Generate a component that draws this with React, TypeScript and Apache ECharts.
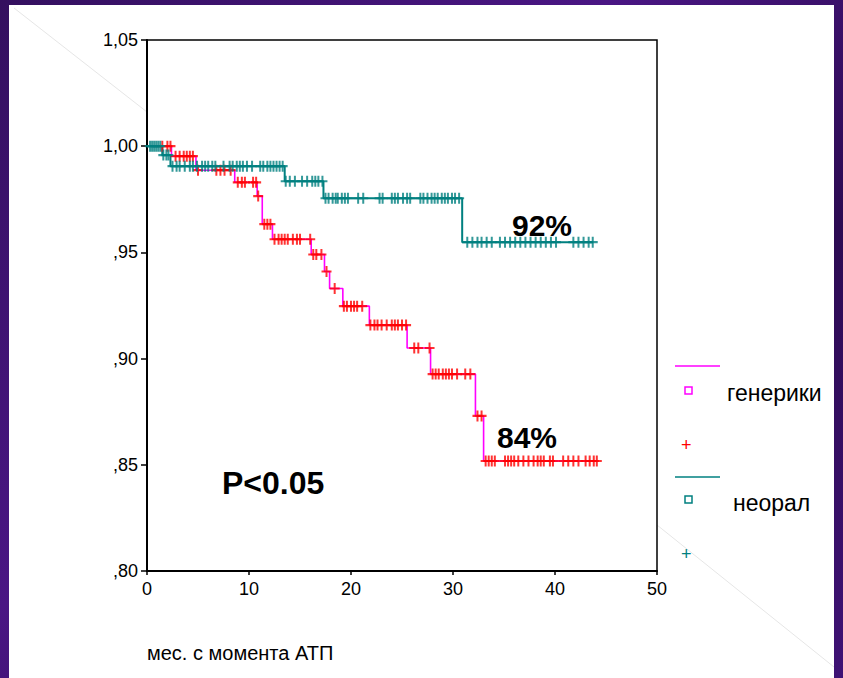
import React, { useEffect, useRef } from "react";
import * as echarts from "echarts";

// Kaplan–Meier step curves (time in months, survival)
const genericTimes = [0, 2.4, 4.8, 8.6, 10.8, 11.3, 12.3, 16.1, 17.4, 17.9, 19.2, 21.8, 25.5, 27.8, 32.2, 33.0];
const genericSurv = [1.0, 0.9953, 0.9887, 0.983, 0.9765, 0.9633, 0.9562, 0.949, 0.941, 0.933, 0.9247, 0.9158, 0.905, 0.8927, 0.873, 0.8518];
const genericEnd = 44.1;
const genericCensored = [
  1.5, 2.0, 2.3, 2.8, 3.2, 3.6, 3.9, 4.2, 4.5, 5.0, 6.8, 7.2, 7.6, 8.2, 8.9, 9.3, 9.6, 10.4, 10.7,
  10.9, 11.5, 11.8, 12.1, 12.5, 12.9, 13.2, 13.5, 13.8, 14.3, 14.7, 15.0, 16.0, 16.3, 16.6, 17.1,
  17.6, 18.4, 19.3, 19.6, 20.0, 20.3, 20.6, 21.1, 21.9, 22.3, 22.6, 23.0, 23.5, 24.0, 24.3, 24.6,
  25.0, 25.4, 26.2, 26.6, 27.7, 28.0, 28.3, 28.6, 29.0, 29.3, 29.6, 29.9, 30.4, 31.2, 31.7, 32.4,
  32.8, 33.2, 33.5, 33.8, 34.1, 35.1, 35.4, 35.7, 36.0, 36.4, 36.9, 37.4, 37.9, 38.3, 38.6, 38.9,
  39.5, 39.8, 40.8, 41.3, 41.8, 42.3, 43.0, 43.4, 43.8, 44.1,
];

const neoralTimes = [0, 1.5, 2.3, 13.5, 17.3, 30.9];
const neoralSurv = [1.0, 0.9958, 0.9906, 0.9835, 0.9755, 0.9548];
const neoralEnd = 43.7;
const neoralCensored = [
  0.3, 0.5, 0.7, 0.9, 1.1, 1.3, 1.6, 1.9, 2.1, 2.5, 2.9, 3.2, 3.7, 4.2, 4.5, 4.9, 5.4, 5.7, 6.0,
  6.4, 6.7, 7.5, 8.1, 8.4, 8.8, 9.1, 9.4, 9.8, 10.3, 11.1, 11.4, 11.8, 12.1, 12.4, 12.7, 13.0, 13.3,
  13.6, 14.0, 14.5, 15.2, 15.7, 16.2, 16.5, 16.8, 17.2, 17.5, 17.8, 18.2, 18.5, 18.7, 19.1, 19.4,
  19.7, 20.7, 21.2, 22.8, 23.1, 24.0, 24.3, 24.6, 25.1, 25.5, 25.8, 26.8, 27.1, 27.5, 27.9, 28.2,
  28.5, 28.9, 29.2, 29.5, 29.9, 30.2, 30.6, 31.4, 31.9, 32.4, 32.8, 33.3, 33.8, 34.6, 35.1, 35.6,
  36.1, 36.6, 37.1, 37.6, 38.1, 38.6, 39.1, 39.6, 40.1, 41.8, 42.3, 42.8, 43.3, 43.7,
];

const xTicks = [0, 10, 20, 30, 40, 50];
const yTicks = [0.8, 0.85, 0.9, 0.95, 1.0, 1.05];

const seriesNames = ["генерики", "неорал"];
const xTitle = "мес. с момента АТП";
const pText = "P<0.05";
const genericPct = "84%";
const neoralPct = "92%";

const MAGENTA = "#ff00ff";
const RED = "#ff0000";
const TEAL = "#008080";
const FONT = "'Liberation Sans', Arial, sans-serif";
const PLUS = "path://M4,0H6V4H10V6H6V10H4V6H0V4H4Z";

function stepAt(times: number[], surv: number[], t: number) {
  let v = surv[0];
  for (let i = 0; i < times.length; i++) if (times[i] <= t) v = surv[i];
  return v;
}

function stepLine(times: number[], surv: number[], end: number) {
  const d = times.map((t, i) => [t, surv[i]]);
  d.push([end, surv[surv.length - 1]]);
  return d;
}

export default function App() {
  const ref = useRef<HTMLDivElement>(null);
  useEffect(() => {
    if (!ref.current) return;
    const chart = echarts.init(ref.current, undefined, { renderer: "svg" });
    const option: any = {
      animation: false,
      backgroundColor: "transparent",
      grid: {
        left: 147,
        top: 40,
        width: 510,
        height: 531,
        show: true,
        borderColor: "#000",
        borderWidth: 1.5,
        backgroundColor: "transparent",
      },
      xAxis: {
        type: "value",
        min: xTicks[0],
        max: xTicks[xTicks.length - 1],
        interval: 10,
        axisLine: { show: true, lineStyle: { color: "#000", width: 2 } },
        axisTick: { show: true, length: 4, lineStyle: { color: "#000", width: 1.5 } },
        splitLine: { show: false },
        axisLabel: { color: "#000", fontSize: 18, fontFamily: FONT, margin: 9 },
      },
      yAxis: {
        type: "value",
        min: yTicks[0],
        max: yTicks[yTicks.length - 1],
        interval: 0.05,
        axisLine: { show: true, onZero: false, lineStyle: { color: "#000", width: 2 } },
        axisTick: { show: true, length: 6, lineStyle: { color: "#000", width: 1.5 } },
        splitLine: { show: false },
        axisLabel: {
          color: "#000",
          fontSize: 18,
          fontFamily: FONT,
          margin: 9,
          formatter: (v: number) => {
            const s = v.toFixed(2).replace(".", ",");
            return s.startsWith("0") ? s.slice(1) : s;
          },
        },
      },
      series: [
        {
          name: seriesNames[0],
          type: "line",
          step: "end",
          data: stepLine(genericTimes, genericSurv, genericEnd),
          showSymbol: false,
          symbol: "none",
          lineStyle: { color: MAGENTA, width: 1.6 },
          z: 2,
        },
        {
          name: seriesNames[1],
          type: "line",
          step: "end",
          data: stepLine(neoralTimes, neoralSurv, neoralEnd),
          showSymbol: false,
          symbol: "none",
          lineStyle: { color: TEAL, width: 2 },
          z: 2,
        },
        {
          name: seriesNames[0] + " censored",
          type: "scatter",
          data: genericCensored.map((t) => [t, stepAt(genericTimes, genericSurv, t)]),
          symbol: PLUS,
          symbolSize: [10, 11],
          itemStyle: { color: RED },
          z: 3,
        },
        {
          name: seriesNames[1] + " censored",
          type: "scatter",
          data: neoralCensored.map((t) => [t, stepAt(neoralTimes, neoralSurv, t)]),
          symbol: PLUS,
          symbolSize: [10, 11],
          itemStyle: { color: TEAL },
          z: 3,
        },
      ],
      graphic: [
        { type: "line", shape: { x1: 14, y1: 8, x2: 147, y2: 112 }, style: { stroke: "#e6e6e6", lineWidth: 1 }, z: -5 },
        { type: "line", shape: { x1: 657, y1: 525, x2: 834, y2: 667 }, style: { stroke: "#e6e6e6", lineWidth: 1 }, z: -5 },
        { type: "text", left: 512, top: 210, style: { text: neoralPct, font: `bold 30px ${FONT}`, fill: "#000" } },
        { type: "text", left: 497, top: 422, style: { text: genericPct, font: `bold 30px ${FONT}`, fill: "#000" } },
        { type: "text", left: 222, top: 467, style: { text: pText, font: `bold 32px ${FONT}`, fill: "#000" } },
        { type: "text", left: 147, top: 643, style: { text: xTitle, font: `20px ${FONT}`, fill: "#000" } },
        // legend
        { type: "line", shape: { x1: 675, y1: 366, x2: 720, y2: 366 }, style: { stroke: MAGENTA, lineWidth: 1.5 } },
        { type: "rect", shape: { x: 685, y: 387, width: 7, height: 7 }, style: { fill: "#fff", stroke: MAGENTA, lineWidth: 1.5 } },
        { type: "text", left: 727, top: 381, style: { text: seriesNames[0], font: `23px ${FONT}`, fill: "#000" } },
        { type: "text", left: 681, top: 436, style: { text: "+", font: `18px ${FONT}`, fill: RED } },
        { type: "line", shape: { x1: 675, y1: 477, x2: 720, y2: 477 }, style: { stroke: TEAL, lineWidth: 1.5 } },
        { type: "rect", shape: { x: 685, y: 496, width: 7, height: 7 }, style: { fill: "#fff", stroke: TEAL, lineWidth: 1.5 } },
        { type: "text", left: 733, top: 491, style: { text: seriesNames[1], font: `23px ${FONT}`, fill: "#000" } },
        { type: "text", left: 681, top: 545, style: { text: "+", font: `18px ${FONT}`, fill: TEAL } },
      ],
    };
    chart.setOption(option);
    return () => chart.dispose();
  }, []);

  return (
    <div style={{ position: "fixed", left: 0, top: 0, width: 843, height: 678, background: "linear-gradient(135deg, #34105f 0%, #4a1684 40%, #2c0b52 70%, #3f1275 100%)", overflow: "hidden" }}>
      <div style={{ position: "absolute", left: 9, top: 5, width: 825, height: 673, background: "#fff" }} />
      <div ref={ref} style={{ position: "absolute", left: 0, top: 0, width: 843, height: 678 }} />
    </div>
  );
}
